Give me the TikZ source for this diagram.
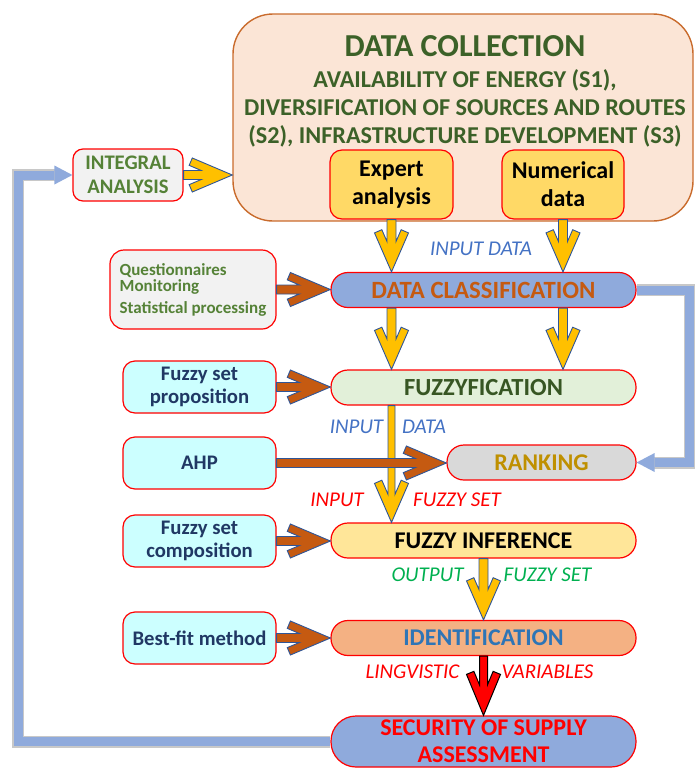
\documentclass[tikz,border=0pt]{standalone}
\usepackage{fontspec}
\setmainfont{Carlito}
\usetikzlibrary{calc,arrows.meta}
\definecolor{peach}{HTML}{FBE5D6}
\definecolor{dcorange}{HTML}{C96B2C}
\definecolor{dgreen}{HTML}{3C6128}
\definecolor{lgreen}{HTML}{558237}
\definecolor{expyellow}{HTML}{FFD966}
\definecolor{lgray}{HTML}{F2F2F2}
\definecolor{pblue}{HTML}{8FAADC}
\definecolor{cltext}{HTML}{C55A11}
\definecolor{pgreen}{HTML}{E2F0D9}
\definecolor{fgreen}{HTML}{375623}
\definecolor{rgray}{HTML}{D9D9D9}
\definecolor{gold}{HTML}{BF9000}
\definecolor{fiyellow}{HTML}{FFE699}
\definecolor{idorange}{HTML}{F4B183}
\definecolor{idblue}{HTML}{2E75B6}
\definecolor{lcyan}{HTML}{CCFFFF}
\definecolor{navy}{HTML}{203864}
\definecolor{ayellow}{HTML}{FFC000}
\definecolor{ablue}{HTML}{2F5597}
\definecolor{abrown}{HTML}{C55A11}
\definecolor{fbgray}{HTML}{C8C8C8}
\definecolor{lblue}{HTML}{4472C4}
\definecolor{ogreen}{HTML}{00B050}
% vertical (downward) open arrow: style, start, tip, shaft half width, head length, head half width, arm thickness
\newcommand{\varr}[7]{%
  \pgfmathsetmacro\arwL{sqrt((#5)^2+(#6)^2)}%
  \pgfmathsetmacro\arwYs{(#7)*\arwL/(#6)+(#5)*(#4)/(#6)}%
  \pgfmathsetmacro\arwB{(#5)+(#7)*(#6)/\arwL}%
  \pgfmathsetmacro\arwLat{(#6)-(#7)*(#5)/\arwL}%
  \draw[#1] ($(#3 |- #2)+(-#4,0)$) -- ($(#3)+(-#4,-\arwYs)$) -- ($(#3)+(-\arwLat,-\arwB)$)
    -- ($(#3)+(-#6,-#5)$) -- (#3) -- ($(#3)+(#6,-#5)$) -- ($(#3)+(\arwLat,-\arwB)$)
    -- ($(#3)+(#4,-\arwYs)$) -- ($(#3 |- #2)+(#4,0)$) -- cycle;}
% horizontal (rightward) open arrow
\newcommand{\harr}[7]{%
  \pgfmathsetmacro\arwL{sqrt((#5)^2+(#6)^2)}%
  \pgfmathsetmacro\arwYs{(#7)*\arwL/(#6)+(#5)*(#4)/(#6)}%
  \pgfmathsetmacro\arwB{(#5)+(#7)*(#6)/\arwL}%
  \pgfmathsetmacro\arwLat{(#6)-(#7)*(#5)/\arwL}%
  \draw[#1] ($(#3 -| #2)+(0,-#4)$) -- ($(#3)+(-\arwYs,-#4)$) -- ($(#3)+(-\arwB,-\arwLat)$)
    -- ($(#3)+(-#5,-#6)$) -- (#3) -- ($(#3)+(-#5,#6)$) -- ($(#3)+(-\arwB,\arwLat)$)
    -- ($(#3)+(-\arwYs,#4)$) -- ($(#3 -| #2)+(0,#4)$) -- cycle;}
\begin{document}
\begin{tikzpicture}[x=1pt,y=-1pt,
  box/.style={draw=red, line width=1.2pt, rounded corners=#1, align=center, inner sep=0pt},
  box/.default=12pt,
  pill/.style={box=17pt, minimum width=305pt, minimum height=35pt, font=\bfseries\fontsize{24}{27}\selectfont},
  cyanbox/.style={box=12pt, fill=lcyan, text=navy, minimum width=153pt, minimum height=52pt, font=\bfseries\fontsize{20.7}{23.5}\selectfont},
  yarrow/.style={fill=ayellow, draw=ablue, line width=0.9pt, line join=miter},
  barrow/.style={fill=abrown, draw=ablue, line width=0.9pt, line join=miter},
  rarrow/.style={fill=red, draw=black, line width=1pt, line join=miter},
  lab/.style={font=\itshape\fontsize{21}{24}\selectfont, inner sep=0pt},
  fbout/.style={draw=fbgray, line width=12pt, line join=miter},
  fbin/.style={draw=pblue, line width=9pt, line join=miter}]
\useasboundingbox (0,0) rectangle (694,769);

% main boxes
\node[box=40pt, draw=dcorange, line width=1.4pt, fill=peach, minimum width=460pt, minimum height=207pt] (dc) at (463,117.5) {};
\node[font=\bfseries\fontsize{32}{36}\selectfont, text=dgreen] (dctitle) at (465,46) {DATA COLLECTION};
\node[font=\bfseries\fontsize{24.2}{28}\selectfont, text=dgreen, align=center] (dcsub) at (465,108) {AVAILABILITY OF ENERGY (S1),\\DIVERSIFICATION OF SOURCES AND ROUTES\\(S2), INFRASTRUCTURE DEVELOPMENT (S3)};
\node[box=12pt, fill=expyellow, minimum width=123pt, minimum height=69pt, font=\bfseries\fontsize{24}{28}\selectfont] (ex) at (391.5,184.5) {Expert\\analysis};
\node[box=12pt, fill=expyellow, minimum width=122pt, minimum height=69pt, font=\bfseries\fontsize{24}{28}\selectfont] (num) at (563,184.5) {Numerical\\data};

\node[box=10pt, fill=lgray, text=lgreen, minimum width=110pt, minimum height=52pt, font=\bfseries\fontsize{20.7}{24}\selectfont] (int) at (128,175) {INTEGRAL\\ANALYSIS};
\node[box=14pt, fill=lgray, text=lgreen, minimum width=166pt, minimum height=79pt, align=left, font=\bfseries\fontsize{17}{20}\selectfont] (q) at (193,289.5) {Questionnaires\\[-4pt]Monitoring\\[2pt]Statistical processing};

\node[pill, fill=pblue, text=cltext, font=\bfseries\fontsize{24.8}{27}\selectfont] (dcl) at (483.5,290) {DATA CLASSIFICATION};
\node[pill, fill=pgreen, text=fgreen, font=\bfseries\fontsize{24.6}{27}\selectfont] (fuz) at (483.5,387.5) {FUZZYFICATION};
\node[pill, fill=rgray, text=gold, minimum width=189pt] (rank) at (541.5,462.5) {RANKING};
\node[pill, fill=fiyellow, text=black] (fi) at (483.5,540.5) {FUZZY INFERENCE};
\node[pill, fill=idorange, text=idblue] (id) at (483.5,638) {IDENTIFICATION};
\node[pill, box=25pt, fill=pblue, text=red, minimum height=51pt] (sec) at (483.5,741.5) {SECURITY OF SUPPLY\\ASSESSMENT};

\node[cyanbox] (prop) at (199.5,387) {Fuzzy set\\proposition};
\node[cyanbox] (ahp) at (199.5,463) {AHP};
\node[cyanbox] (comp) at (199.5,541) {Fuzzy set\\composition};
\node[cyanbox] (best) at (199.5,638) {Best-fit method};

% feedback lines
\coordinate (fbl) at ($(int.west)+(-54,0)$);
\coordinate (fbr) at ($(dcl.east)+(53,0)$);
\draw[fbout, shorten >=14pt] (sec.west) -| (fbl) -- (int.west);
\draw[fbin, -{Triangle[length=18pt,width=19pt,line width=0pt]}] (sec.west) -| (fbl) -- (int.west);
\draw[fbout, shorten >=14pt] (dcl.east) -| (fbr |- rank.east) -- (rank.east);
\draw[fbin, -{Triangle[length=18pt,width=19pt,line width=0pt]}] (dcl.east) -| (fbr |- rank.east) -- (rank.east);

% arrow tips
\coordinate (t1) at (ex.south |- dcl.north);
\coordinate (t2) at (num.south |- dcl.north);
\coordinate (t3) at (ex.south |- fuz.north);
\coordinate (t4) at (num.south |- fuz.north);
\coordinate (t5) at (ex.south |- fi.north);
\coordinate (t6) at (fi.south |- id.north);
\coordinate (t7) at (id.south |- sec.north);
\coordinate (h1) at (int.east -| dc.west);
\coordinate (h2) at (q.east -| dcl.west);
\coordinate (h3) at (prop.east -| fuz.west);
\coordinate (h4) at (ahp.east -| rank.west);
\coordinate (h5) at (comp.east -| fi.west);
\coordinate (h6) at (best.east -| id.west);

\varr{yarrow}{ex.south}{t1}{4.5}{39}{17}{8}
\varr{yarrow}{num.south}{t2}{4.5}{39}{17}{8}
\varr{yarrow}{dcl.south}{t3}{4.5}{39}{17}{8}
\varr{yarrow}{dcl.south}{t4}{4.5}{39}{17}{8}
\varr{yarrow}{fuz.south}{t5}{3.5}{39}{17}{8}
\varr{yarrow}{fi.south}{t6}{4.5}{39}{17}{8}
\varr{rarrow}{id.south}{t7}{4}{41}{17}{8}
\harr{yarrow}{int.east}{h1}{4.5}{40}{17}{8}
\harr{barrow}{q.east}{h2}{4.5}{40}{17}{8}
\harr{barrow}{prop.east}{h3}{4.5}{40}{17}{8}
\harr{barrow}{ahp.east}{h4}{4.5}{40}{17}{8}
\harr{barrow}{comp.east}{h5}{4.5}{40}{17}{8}
\harr{barrow}{best.east}{h6}{4.5}{40}{17}{8}

% labels
\node[lab, text=lblue] (l1) at (481,249) {INPUT DATA};
\node[lab, text=lblue] (l2) at (356.5,427) {INPUT};
\node[lab, text=lblue] (l3) at (424,427) {DATA};
\node[lab, text=red] (l4) at (337,500) {INPUT};
\node[lab, text=red] (l5) at (457,500) {FUZZY SET};
\node[lab, text=ogreen] (l6) at (427.5,575) {OUTPUT};
\node[lab, text=ogreen] (l7) at (547.5,575) {FUZZY SET};
\node[lab, text=red] (l8) at (412.5,672) {LINGVISTIC};
\node[lab, text=red] (l9) at (547.5,672) {VARIABLES};
\end{tikzpicture}
\end{document}
